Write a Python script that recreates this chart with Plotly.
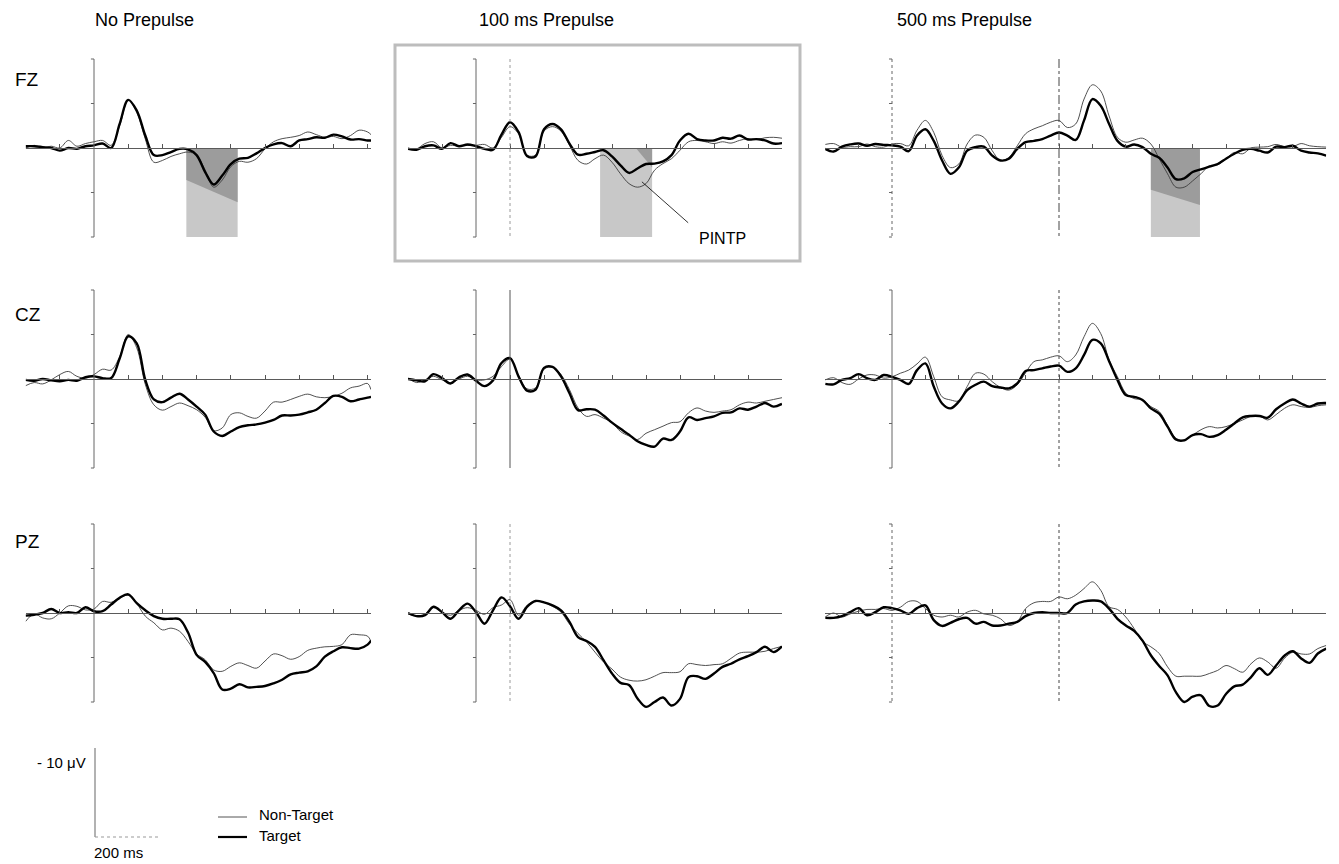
import plotly.graph_objects as go

W, H = 1339, 864

# ---------------- data (µV, negative up), time in ms ----------------
t_np = list(range(-200, 801, 25)) + [810]
t_100 = list(range(-200, 901, 25))
t_500 = list(range(-200, 1301, 25))

col_titles = ["No Prepulse", "100 ms Prepulse", "500 ms Prepulse"]
row_labels = ["FZ", "CZ", "PZ"]

fz_np_tgt = [-0.2, -0.2, -0.1, 0, 0.3, 0, 0.1, -0.2, -0.3, -0.5,
             0, -2.7, -5.4, -4.2, -1.4, 0.8, 0.8, 0.45, 0.1, 0.15,
             0.8, 2.7, 4.1, 3.1, 1.8, 1.2, 1.1, 0.6, 0, -0.4,
             -0.55, -0.2, -0.85, -1.0, -1.2, -1.15, -1.5, -1.3, -0.95, -1.0,
             -0.85, -0.85]
fz_np_non = [0, -0.3, 0, -0.2, 0, -0.85, -0.2, -0.5, -0.7, -0.85,
             -0.3, -2.5, -5.4, -4.0, -1.0, 1.6, 1.4, 0.95, 0.65, 0.45,
             0.8, 2.5, 4.4, 3.6, 2.1, 1.5, 1.6, 1.2, 0.1, -0.7,
             -1.05, -1.2, -1.4, -1.8, -1.5, -1.2, -1.3, -1.05, -1.4, -2.0,
             -1.8, -1.5]
fz_100_tgt = [0.1, 0.2, -0.2, -0.3, 0.1, -0.55, -0.2, -0.4, -0.2, 0.1,
              0.2, -1.5, -2.9, -1.8, 0.9, 0.95, -2.1, -2.7, -2.1, -0.5,
              0.75, 0.65, 0.45, 0.25, 0.95, 1.95, 2.8, 2.3, 1.8, 1.75,
              1.5, 0.8, -0.85, -1.6, -1.0, -0.85, -0.85, -1.15, -1.05, -1.4,
              -0.95, -1.0, -0.85, -0.5, -0.55]
fz_100_non = [0, 0.1, -0.5, -0.7, 0, -0.3, -0.2, -0.3, -0.3, -0.4,
              0, -1.2, -2.4, -1.6, 0.8, 0.8, -1.9, -2.4, -1.9, -0.3,
              1.4, 1.8, 1.2, 0.8, 1.6, 2.9, 4.0, 4.4, 4.0, 2.5,
              1.75, 1.2, 0.25, -0.7, -0.85, -0.7, -0.5, -0.7, -0.55, -0.85,
              -1.05, -0.95, -1.15, -1.2, -1.1]
fz_500_tgt = [0.1, 0.4, -0.15, -0.4, -0.5, -0.25, -0.45, -0.35, -0.3, -0.15,
              0.35, -1.4, -2.1, -0.8, 1.4, 2.9, 2.2, 0.3, -0.1, -0.15,
              0.85, 1.4, 1.2, 0.1, -0.65, -0.8, -1.0, -1.4, -1.75, -1.4,
              -0.9, -3.1, -5.5, -4.75, -2.7, -0.8, -0.15, -0.4, -0.1, 0.65,
              1.1, 2.2, 3.5, 3.4, 2.7, 2.4, 2.1, 1.8, 1.2, 0.65,
              0.2, 0.1, 0.3, 0.5, -0.15, -0.1, -0.25, 0.3, 0.5, 0.6, 0.85]
fz_500_non = [-0.4, -0.5, -0.1, -0.15, -0.15, -0.45, -0.15, -0.1, -0.45, -0.5,
              -0.25, -2.0, -3.1, -1.75, 0.85, 2.2, 1.8, -0.45, -1.45, -1.2,
              0.3, 1.4, 1.05, -0.25, -1.6, -2.15, -2.5, -2.9, -3.1, -2.3,
              -2.7, -5.5, -7.1, -6.4, -3.6, -1.2, -0.65, -0.9, -1.1, -0.45,
              1.2, 2.9, 4.4, 4.4, 3.7, 2.9, 2.0, 1.9, 1.2, 0.5,
              0.65, 0, -0.1, -0.15, -0.4, -0.15, -0.15, -0.5, -0.25, -0.15, -0.1]

cz_np_tgt = [0.1, 0.2, 0, 0.15, 0.25, 0.1, 0.2, -0.2, -0.3, -0.1,
             -0.1, -2.3, -4.8, -4.0, 0.1, 2.3, 2.6, 2.1, 1.65, 2.3,
             3.1, 4.0, 5.9, 6.4, 5.9, 5.4, 5.2, 5.1, 4.9, 4.6,
             4.1, 4.1, 4.0, 3.75, 3.45, 2.7, 1.9, 2.0, 2.5, 2.3,
             2.1, 2.0]
cz_np_non = [0.75, 0.4, 0.55, 0.1, -0.5, -0.85, -0.3, -0.1, -0.5, -1.1,
             -1.0, -2.5, -5.0, -3.5, 0.6, 2.9, 3.5, 3.1, 2.7, 3.0,
             3.45, 4.3, 5.8, 5.5, 4.0, 3.8, 4.2, 4.4, 3.6, 2.6,
             2.6, 2.3, 1.95, 1.7, 2.0, 2.1, 1.95, 1.6, 1.0, 0.8,
             0.5, 1.2]
cz_100_tgt = [0, 0.15, 0.25, -0.55, -0.1, 0.5, -0.2, -0.5, 0.2, 0.8,
              0.15, -1.8, -2.35, -0.3, 1.3, 1.2, -1.25, -1.35, -0.3, 1.6,
              3.5, 3.4, 3.45, 4.1, 4.9, 5.6, 6.25, 7.0, 7.4, 7.6,
              6.7, 6.85, 5.9, 4.3, 4.6, 4.4, 4.2, 3.8, 3.75, 3.3,
              3.45, 3.1, 2.7, 3.1, 2.8]
cz_100_non = [-0.1, 0.4, 0.1, -0.3, 0.1, 0.45, 0, -0.3, 0.1, 0.1,
              -0.3, -1.4, -2.25, -0.4, 1.1, 1.0, -1.1, -1.35, -0.5, 1.2,
              3.25, 4.2, 4.0, 4.4, 4.9, 5.9, 6.4, 6.8, 6.1, 5.7,
              5.3, 4.9, 4.8, 3.8, 3.25, 3.6, 3.75, 3.6, 3.45, 2.9,
              2.6, 2.7, 2.5, 2.3, 2.1]
cz_500_tgt = [0.55, 0.6, 0.1, -0.1, -0.55, -0.1, 0.1, -0.45, -0.25, 0.1,
              0.55, -1.0, -1.75, 0.85, 2.75, 3.3, 2.55, 1.25, 0.65, 0.3,
              0.8, 0.95, 1.05, 0.5, -0.9, -1.0, -1.2, -1.4, -1.5, -0.8,
              -1.2, -2.7, -4.4, -4.0, -2.0, 0.1, 1.8, 2.0, 2.35, 3.3,
              3.9, 5.35, 6.8, 6.9, 6.3, 6.2, 6.5, 6.3, 5.7, 5.0,
              4.3, 4.15, 4.15, 4.35, 3.4, 2.75, 2.3, 2.75, 3.1, 2.75, 2.7]
cz_500_non = [0.1, -0.15, 0.4, 0.6, 0, -0.45, -0.45, -0.1, -0.25, -0.65,
              -1.0, -1.7, -2.45, -0.25, 2.0, 2.35, 2.45, 0.85, -0.65, -0.55,
              0.3, 0.95, 1.25, 0.65, -0.7, -1.95, -2.15, -2.45, -2.6, -1.95,
              -2.7, -4.75, -6.25, -5.1, -2.15, -0.25, 1.6, 2.2, 2.35, 3.1,
              3.65, 5.2, 6.65, 6.85, 6.3, 5.7, 5.35, 5.5, 5.35, 5.0,
              4.6, 4.2, 4.15, 4.6, 4.0, 3.3, 2.9, 3.1, 3.2, 3.0, 2.9]

pz_np_tgt = [0.3, 0.2, 0, -0.45, 0, -0.1, 0, -0.65, -0.2, -0.2,
             -0.95, -1.7, -2.1, -1.1, -0.3, 0.35, 0.65, 0.65, 0.7, 2.2,
             4.7, 5.5, 6.75, 8.6, 8.5, 8.0, 8.35, 8.3, 8.2, 7.9,
             7.5, 6.9, 6.7, 6.55, 6.0, 4.9, 4.3, 3.85, 3.95, 4.0,
             3.55, 3.1]
pz_np_non = [0.95, 0.1, 0.55, 0.65, 0, -0.8, -0.75, -0.35, -0.45, -1.3,
             -1.2, -1.7, -2.0, -1.05, 0.35, 1.1, 1.9, 1.7, 2.05, 3.2,
             4.6, 5.25, 6.4, 6.55, 6.0, 5.6, 5.9, 6.2, 5.4, 4.6,
             4.8, 5.2, 4.9, 4.2, 3.95, 3.8, 3.75, 3.55, 2.45, 2.45,
             2.6, 3.2]
pz_100_tgt = [0, 0.35, 0.25, -0.7, -0.1, 0.65, -0.3, -1.05, -0.1, 1.2,
              -0.3, -1.75, -0.75, 0.65, -0.7, -1.35, -1.2, -0.85, -0.3, 1.0,
              2.7, 3.15, 3.8, 5.3, 6.8, 7.85, 8.1, 9.6, 10.55, 10.0,
              9.5, 10.4, 9.65, 7.2, 7.1, 7.4, 6.8, 6.05, 5.7, 5.2,
              4.85, 4.4, 3.8, 4.4, 3.75]
pz_100_non = [0.1, 0.35, 0.1, -0.6, -0.1, 0.25, -0.3, -0.6, -0.3, 0.15,
              -0.6, -0.9, -1.5, 0.25, -0.85, -1.35, -1.2, -0.75, -0.1, 1.25,
              2.3, 3.25, 4.4, 5.5, 6.3, 7.2, 7.55, 7.65, 7.5, 7.1,
              6.7, 6.7, 6.6, 5.7, 5.8, 5.9, 5.8, 5.7, 5.1, 4.5,
              4.4, 4.4, 4.3, 4.0, 3.75]
pz_500_tgt = [0.55, 0.55, 0.35, -0.1, -0.55, 0.25, -0.1, -0.65, -0.55, -0.3,
              0.1, -0.55, -0.85, 0.8, 1.45, 1.1, 0.7, 0.55, 1.2, 1.0,
              1.4, 1.4, 1.2, 1.0, 0.35, 0, -0.1, 0, 0, 0,
              -0.95, -1.3, -1.4, -1.3, -0.5, 0.65, 1.4, 2.0, 3.1, 4.75,
              5.95, 7.0, 8.9, 10.0, 9.4, 9.25, 10.45, 10.4, 9.1, 8.25,
              8.05, 7.2, 6.2, 6.95, 5.9, 4.8, 4.3, 5.1, 5.6, 4.55, 4.0]
pz_500_non = [0.45, 0, 0.45, 0.1, -0.2, -0.4, -0.4, -0.5, -0.3, -0.65,
              -1.3, -1.3, -0.5, 0.25, 0.45, 0.25, 0.45, -0.1, -0.3, 0.1,
              0.25, 0.65, 1.4, 1.0, -0.5, -1.15, -1.3, -1.3, -1.8, -1.6,
              -2.0, -2.75, -3.5, -2.55, -0.7, -0.4, 0.45, 1.75, 3.2, 3.8,
              4.55, 6.05, 7.1, 7.1, 7.1, 7.1, 6.8, 6.45, 5.9, 6.25,
              6.65, 5.7, 5.05, 5.5, 6.2, 5.1, 4.4, 4.6, 4.6, 4.0, 3.65]

# PINTP analysis windows (ms, per column)
win_start = [270, 365, 775]
win_end = [420, 518, 922]

times = [t_np, t_100, t_500]
targets = [[fz_np_tgt, fz_100_tgt, fz_500_tgt],
           [cz_np_tgt, cz_100_tgt, cz_500_tgt],
           [pz_np_tgt, pz_100_tgt, pz_500_tgt]]
nontargets = [[fz_np_non, fz_100_non, fz_500_non],
              [cz_np_non, cz_100_non, cz_500_non],
              [pz_np_non, pz_100_non, pz_500_non]]

# ---------------- layout geometry (pixels) ----------------
cols = [dict(t0=94, pxms=0.342, tmin=-200, tmax=810, extra=[]),
        dict(t0=476, pxms=0.340, tmin=-200, tmax=900, extra=[100]),
        dict(t0=892, pxms=0.334, tmin=-200, tmax=1300, extra=[500])]
baselines = [148, 379, 613]
PX_UV = 8.9
YR = 12

FONT = "Liberation Sans, Arial, sans-serif"


def px(x):
    return x / W


def py(y):
    return 1 - y / H


fig = go.Figure()
shapes = []
annotations = []
layout = {}

for r in range(3):
    b = baselines[r]
    for c in range(3):
        k = r * 3 + c + 1
        cd = cols[c]
        xn = "x" if k == 1 else f"x{k}"
        yn = "y" if k == 1 else f"y{k}"
        xa = "xaxis" if k == 1 else f"xaxis{k}"
        ya = "yaxis" if k == 1 else f"yaxis{k}"
        x0 = cd["t0"] + cd["tmin"] * cd["pxms"]
        x1 = cd["t0"] + cd["tmax"] * cd["pxms"]
        tickv = [v for v in range(-100, cd["tmax"] + 1, 100) if v != 0]
        layout[xa] = dict(domain=[px(x0), px(x1)], range=[cd["tmin"], cd["tmax"]],
                          anchor="free", position=py(b), showline=True,
                          linecolor="#5a5a5a", linewidth=1, showgrid=False,
                          zeroline=False, ticks="inside", ticklen=4,
                          tickcolor="#555", tickvals=tickv, showticklabels=False)
        layout[ya] = dict(domain=[py(b + YR * PX_UV), py(b - YR * PX_UV)],
                          range=[YR, -YR], anchor="free", position=px(x0),
                          visible=False, showgrid=False, zeroline=False)

        # shaded PINTP window (FZ only)
        if r == 0:
            ws, we = win_start[c], win_end[c]
            shapes.append(dict(type="rect", xref=xn, yref=yn, x0=ws, x1=we,
                               y0=0, y1=10, fillcolor="#c8c8c8",
                               line=dict(width=0), layer="below"))
            if c == 1:
                path = f"M {we-48},0 L {we},0 L {we},2.2 Z"
            else:
                d0, d1 = (3.6, 6.1) if c == 0 else (4.7, 6.4)
                path = f"M {ws},0 L {we},0 L {we},{d1} L {ws},{d0} Z"
            shapes.append(dict(type="path", xref=xn, yref=yn, path=path,
                               fillcolor="#9c9c9c", line=dict(width=0),
                               layer="below"))

        # vertical axis at t = 0 with ticks at ±5, ±10 µV
        vstyle = "dot" if c == 2 and r != 1 else "solid"
        shapes.append(dict(type="line", xref=xn, yref=yn, x0=0, x1=0,
                           y0=-10, y1=10,
                           line=dict(color="#666", width=1, dash=vstyle)))
        for tv in (-10, -5, 5, 10):
            shapes.append(dict(type="line", xref=xn, yref=yn, x0=-9, x1=0,
                               y0=tv, y1=tv, line=dict(color="#666", width=1)))
        # startle-onset line
        for e in cd["extra"]:
            if c == 1 and r == 1:
                st = dict(color="#555", width=1, dash="solid")
            elif c == 1:
                st = dict(color="#9a9a9a", width=1, dash="dot")
            else:
                st = dict(color="#444", width=1, dash="dashdot" if r == 0 else "dot")
            shapes.append(dict(type="line", xref=xn, yref=yn, x0=e, x1=e,
                               y0=-10, y1=10, line=st))

        t = times[c]
        fig.add_trace(go.Scatter(x=t, y=nontargets[r][c], mode="lines",
                                 line=dict(color="#3c3c3c", width=0.9, shape="spline",
                                           smoothing=1.0),
                                 xaxis=xn, yaxis=yn, name="Non-Target",
                                 showlegend=False, hoverinfo="skip"))
        fig.add_trace(go.Scatter(x=t, y=targets[r][c], mode="lines",
                                 line=dict(color="#000", width=2.4, shape="spline",
                                           smoothing=1.0),
                                 xaxis=xn, yaxis=yn, name="Target",
                                 showlegend=False, hoverinfo="skip"))

# column titles
title_x = [93, 477, 895]
for c in range(3):
    annotations.append(dict(text=col_titles[c], x=px(title_x[c]), y=py(20),
                            xref="paper", yref="paper", xanchor="left",
                            yanchor="middle", showarrow=False,
                            font=dict(family=FONT, size=18, color="#000")))
# row labels
label_y = [80, 315, 541]
for r in range(3):
    annotations.append(dict(text=row_labels[r], x=px(13), y=py(label_y[r]),
                            xref="paper", yref="paper", xanchor="left",
                            yanchor="middle", showarrow=False,
                            font=dict(family=FONT, size=19, color="#000")))

# highlighted box around FZ / 100 ms panel
shapes.append(dict(type="rect", xref="paper", yref="paper",
                   x0=px(395), x1=px(800), y0=py(261), y1=py(45),
                   line=dict(color="#bdbdbd", width=3)))

# PINTP pointer
shapes.append(dict(type="line", xref="x2", yref="y2", x0=488, y0=3.8,
                   x1=624, y1=8.4, line=dict(color="#000", width=0.8)))
annotations.append(dict(text="PINTP", x=px(697), y=py(239), xref="paper",
                        yref="paper", xanchor="left", yanchor="middle",
                        showarrow=False,
                        font=dict(family=FONT, size=16, color="#000")))

# calibration bar
shapes.append(dict(type="line", xref="paper", yref="paper", x0=px(95), x1=px(95),
                   y0=py(748), y1=py(837), line=dict(color="#999", width=1.5)))
shapes.append(dict(type="line", xref="paper", yref="paper", x0=px(95), x1=px(160),
                   y0=py(837), y1=py(837), line=dict(color="#999", width=1, dash="dot")))
annotations.append(dict(text="- 10 μV", x=px(88), y=py(762), xref="paper",
                        yref="paper", xanchor="right", yanchor="middle",
                        showarrow=False, font=dict(family=FONT, size=15, color="#000")))
annotations.append(dict(text="200 ms", x=px(92), y=py(852), xref="paper",
                        yref="paper", xanchor="left", yanchor="middle",
                        showarrow=False, font=dict(family=FONT, size=15, color="#000")))

# legend
shapes.append(dict(type="line", xref="paper", yref="paper", x0=px(218), x1=px(247),
                   y0=py(817), y1=py(817), line=dict(color="#555", width=1)))
shapes.append(dict(type="line", xref="paper", yref="paper", x0=px(218), x1=px(247),
                   y0=py(837), y1=py(837), line=dict(color="#000", width=2.2)))
annotations.append(dict(text="Non-Target", x=px(257), y=py(814), xref="paper",
                        yref="paper", xanchor="left", yanchor="middle",
                        showarrow=False, font=dict(family=FONT, size=15, color="#000")))
annotations.append(dict(text="Target", x=px(257), y=py(835), xref="paper",
                        yref="paper", xanchor="left", yanchor="middle",
                        showarrow=False, font=dict(family=FONT, size=15, color="#000")))

fig.update_layout(width=W, height=H, margin=dict(l=0, r=0, t=0, b=0),
                  paper_bgcolor="white", plot_bgcolor="white",
                  showlegend=False, shapes=shapes, annotations=annotations,
                  **layout)

fig.write_html("out.html")
